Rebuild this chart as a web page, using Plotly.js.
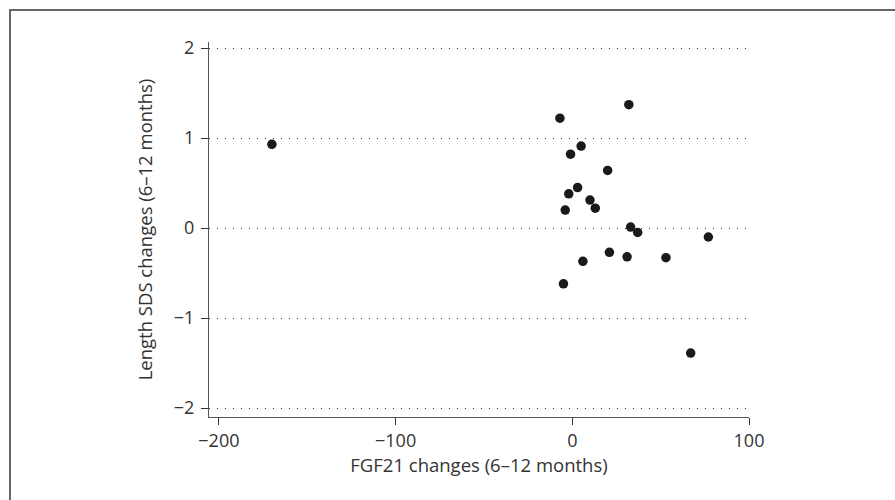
<!DOCTYPE html>
<html>
<head>
<meta charset="utf-8">
<script src="https://cdn.plot.ly/plotly-3.0.1.min.js"></script>
<style>
  html, body { margin: 0; padding: 0; background: #fff; }
  #wrap { position: relative; width: 895px; height: 500px; }
  #chart { width: 895px; height: 500px; }
  #frame { position: absolute; left: 9px; top: 9px; right: 0; bottom: 0;
           border-top: 2px solid #666; border-left: 2px solid #666; pointer-events: none; }
</style>
</head>
<body>
<div id="wrap">
  <div id="chart"></div>
  <div id="frame"></div>
</div>
<script>
// FGF21 changes (6–12 months)
const fgf21Change = [-170, -7, 32, 5, -1, 20, 3, -2, 10, 13, -4, 33, 37, 77, 21, 31, 53, 6, -5, 67];
// Length SDS changes (6–12 months)
const lengthSdsChange = [0.93, 1.22, 1.37, 0.91, 0.82, 0.64, 0.45, 0.38, 0.31, 0.22, 0.20, 0.01, -0.05, -0.10, -0.27, -0.32, -0.33, -0.37, -0.62, -1.39];

const xTicks = [-200, -100, 0, 100];
const xTickLabels = ['\u2212200', '\u2212100', '0', '100'];
const yTicks = [-2, -1, 0, 1, 2];
const yTickLabels = ['\u22122', '\u22121', '0', '1', '2'];

const trace = {
  x: fgf21Change,
  y: lengthSdsChange,
  type: 'scatter',
  mode: 'markers',
  marker: { color: '#1a1a1a', size: 9.5, line: { width: 0 } },
  hoverinfo: 'x+y'
};

const fontFam = '"Open Sans", "DejaVu Sans", sans-serif';

const layout = {
  width: 895, height: 500,
  margin: { l: 209, r: 146, t: 42, b: 83 },
  paper_bgcolor: '#fff', plot_bgcolor: '#fff',
  showlegend: false,
  font: { family: fontFam, size: 18, color: '#333' },
  xaxis: {
    range: [-205.6, 100],
    tickmode: 'array', tickvals: xTicks, ticktext: xTickLabels,
    ticks: 'outside', ticklen: 7, tickwidth: 1, tickcolor: '#333',
    showgrid: false, zeroline: false,
    showline: true, linecolor: '#555', linewidth: 1,
    tickfont: { size: 18, color: '#333' },
    title: { text: 'FGF21 changes (6\u201312 months)', font: { size: 18.5, color: '#333' }, standoff: 6 }
  },
  yaxis: {
    range: [-2.1, 2.067],
    tickmode: 'array', tickvals: yTicks, ticktext: yTickLabels,
    ticks: 'outside', ticklen: 7, tickwidth: 1, tickcolor: '#333',
    ticklabelstandoff: 3,
    showgrid: true, gridcolor: '#333', gridwidth: 1, griddash: '1px,7px',
    zeroline: false,
    showline: true, linecolor: '#555', linewidth: 1,
    tickfont: { size: 18, color: '#333' },
    title: { text: 'Length SDS changes (6\u201312 months)', font: { size: 18.5, color: '#333' }, standoff: 16 }
  }
};

Plotly.newPlot('chart', [trace], layout, { displayModeBar: false, staticPlot: true });
</script>
</body>
</html>
